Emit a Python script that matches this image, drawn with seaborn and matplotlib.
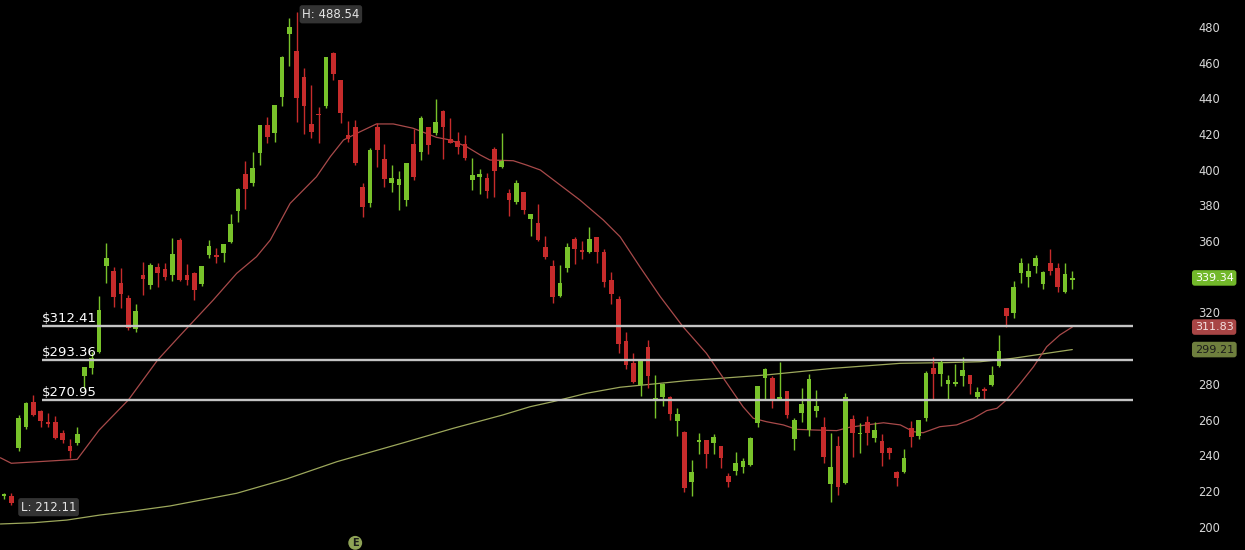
import numpy as np
import pandas as pd
import matplotlib
matplotlib.use("Agg")
import matplotlib.pyplot as plt
import matplotlib.transforms as mtransforms
import seaborn as sns

# ── data ─────────────────────────────────────────────────────────────────────
opens = [217.0, 217.3, 243.9, 255.6, 270.0, 264.8, 258.8, 258.8, 252.6, 245.2,
         246.7, 284.4, 288.7, 298.0, 346.0, 343.4, 336.3, 327.9, 310.5, 341.0,
         335.4, 345.3, 344.2, 341.0, 360.4, 341.0, 342.3, 336.1, 352.0, 352.2,
         353.1, 359.4, 376.8, 397.7, 392.5, 409.5, 425.0, 420.3, 440.9, 476.0,
         466.7, 452.0, 425.6, 431.2, 435.6, 465.5, 450.1, 419.4, 424.1, 390.4,
         381.1, 423.7, 405.7, 392.6, 391.3, 383.0, 414.3, 410.0, 423.7, 420.7,
         433.1, 417.0, 416.2, 414.3, 394.1, 396.0, 395.2, 411.4, 401.4, 386.8,
         381.8, 387.5, 372.6, 370.1, 356.5, 346.0, 329.2, 344.7, 360.9, 355.0,
         354.0, 362.1, 354.0, 338.2, 327.3, 304.2, 291.5, 279.4, 300.8, 270.9,
         272.7, 272.5, 259.4, 253.2, 225.1, 247.2, 248.5, 247.0, 245.2, 228.4,
         231.4, 233.2, 234.5, 258.1, 283.5, 283.5, 271.5, 275.8, 249.0, 263.6,
         254.3, 265.0, 255.6, 223.9, 245.2, 224.6, 260.1, 251.7, 258.8, 249.8,
         248.2, 243.9, 230.7, 230.7, 255.0, 250.8, 261.1, 289.1, 285.3, 279.7,
         279.7, 284.2, 284.9, 272.8, 276.9, 279.4, 290.0, 322.3, 319.8, 342.3,
         340.0, 346.0, 336.0, 347.9, 344.7, 331.7, 337.9]
highs = [219.0, 218.7, 262.5, 270.0, 273.7, 265.3, 263.9, 262.0, 254.1, 248.9,
         255.7, 289.5, 298.0, 329.2, 358.7, 345.3, 344.7, 329.8, 324.7, 348.4,
         347.5, 347.5, 347.9, 361.5, 361.9, 347.1, 342.5, 345.8, 360.4, 356.0,
         358.3, 375.3, 389.5, 404.8, 409.8, 425.2, 429.6, 436.4, 463.5, 484.8,
         488.54, 456.7, 447.6, 435.0, 463.0, 465.7, 450.3, 427.5, 427.8, 392.6,
         411.9, 426.3, 414.3, 402.6, 399.4, 403.8, 422.6, 430.0, 424.0, 439.5,
         433.3, 428.7, 421.3, 419.4, 406.8, 400.3, 398.4, 412.8, 420.7, 389.3,
         394.2, 387.7, 375.2, 380.7, 362.8, 349.4, 346.6, 358.7, 362.1, 360.2,
         367.7, 362.3, 355.4, 342.9, 329.2, 309.2, 297.5, 293.6, 304.6, 285.0,
         280.7, 273.2, 266.3, 253.4, 237.3, 252.3, 248.7, 251.9, 245.4, 230.3,
         242.0, 238.3, 250.0, 278.8, 288.7, 284.2, 292.2, 276.0, 260.7, 277.5,
         285.5, 276.6, 261.3, 252.3, 250.8, 274.6, 262.5, 257.9, 262.0, 258.8,
         251.9, 244.5, 230.9, 243.3, 259.3, 260.0, 287.2, 295.0, 293.6, 284.9,
         291.3, 295.0, 285.1, 278.0, 278.0, 289.9, 307.4, 322.5, 337.8, 350.3,
         347.5, 352.2, 343.1, 355.4, 347.5, 347.5, 343.4]
lows = [215.3, 212.11, 242.5, 254.5, 262.0, 255.7, 256.0, 248.9, 246.7, 238.7,
        245.7, 277.0, 285.5, 297.5, 336.3, 322.9, 322.3, 310.2, 309.2, 329.8,
        333.0, 334.1, 338.2, 337.8, 337.6, 335.4, 327.0, 334.6, 350.3, 347.5,
        348.4, 358.9, 370.9, 378.2, 390.6, 402.6, 414.7, 415.7, 435.6, 457.8,
        426.9, 419.9, 417.6, 415.1, 434.3, 450.5, 426.3, 415.7, 402.6, 373.3,
        379.3, 401.7, 390.0, 387.6, 377.4, 379.7, 394.2, 405.3, 409.0, 419.4,
        405.7, 414.7, 408.6, 405.3, 388.5, 386.3, 383.9, 384.4, 400.8, 373.9,
        380.7, 375.0, 362.8, 360.1, 349.8, 325.1, 328.8, 342.9, 347.1, 349.8,
        353.5, 347.9, 334.1, 324.7, 297.1, 288.1, 280.7, 273.2, 277.5, 261.0,
        267.6, 259.8, 250.8, 219.5, 217.1, 240.7, 232.7, 240.7, 232.7, 222.4,
        229.0, 229.9, 233.9, 255.8, 270.9, 266.3, 271.2, 260.6, 243.1, 258.8,
        250.8, 261.3, 235.4, 213.9, 217.7, 223.9, 239.1, 241.0, 245.7, 247.6,
        233.9, 237.8, 222.8, 229.8, 244.5, 248.9, 259.3, 271.7, 279.0, 271.1,
        279.0, 279.0, 274.1, 271.1, 271.1, 278.8, 289.6, 311.7, 316.7, 336.7,
        334.5, 342.0, 333.0, 341.0, 331.6, 331.1, 333.0]
closes = [218.3, 213.5, 260.7, 269.4, 262.6, 259.4, 257.3, 249.5, 248.5, 242.6,
          251.9, 289.3, 294.3, 321.4, 350.3, 328.8, 330.3, 311.1, 321.0, 338.6,
          346.6, 342.3, 340.0, 352.7, 338.0, 338.0, 332.6, 345.8, 357.2, 350.9,
          358.1, 369.3, 389.3, 389.3, 401.1, 425.0, 418.1, 436.2, 463.3, 479.7,
          440.0, 435.6, 421.3, 430.5, 462.9, 453.5, 431.5, 417.0, 403.6, 379.2,
          411.0, 411.0, 394.5, 395.1, 394.5, 403.6, 396.0, 428.7, 413.8, 426.9,
          423.7, 415.1, 412.5, 406.3, 397.1, 397.8, 388.1, 399.4, 405.1, 383.1,
          392.5, 377.3, 375.0, 360.8, 350.9, 328.5, 336.7, 356.5, 355.4, 353.9,
          360.9, 354.0, 337.2, 330.3, 302.3, 290.6, 281.2, 293.4, 284.4, 271.2,
          279.7, 263.1, 263.1, 221.9, 230.7, 248.5, 240.7, 250.0, 238.3, 225.2,
          235.8, 237.0, 249.5, 278.6, 288.5, 271.7, 272.8, 262.7, 259.8, 268.8,
          282.9, 267.6, 238.8, 233.6, 222.0, 272.4, 252.6, 252.6, 252.6, 254.3,
          241.5, 241.5, 227.5, 238.3, 250.3, 259.8, 286.1, 285.3, 292.2, 282.3,
          281.0, 287.6, 279.9, 275.6, 276.1, 284.9, 298.6, 318.0, 334.4, 347.9,
          343.4, 350.3, 342.9, 343.4, 334.4, 341.6, 339.34]

# moving averages, sampled along the traced lines (candle index, value)
fast_ma_idx = [-0.5, 1, 10, 13, 17, 21, 24, 28.6, 31.8, 34.5, 36.4, 39.1, 42.7,
               44.6, 46.4, 48.7, 50.9, 53.2, 55.9, 59.1, 61, 63.2, 65.1, 66.4,
               69.6, 71.4, 73.3, 78.7, 81.9, 84.2, 86.9, 89.7, 92.8, 96, 98.8,
               101, 102.4, 104.2, 106.5, 108.3, 111.1, 113.8, 115.6, 117.9,
               120.2, 122.5, 124.3, 125.6, 127.9, 130.2, 132.5, 134.3, 135.7,
               137, 138.9, 140.7, 142.5, 144.3, 146]
fast_ma_val = [238.6, 235.5, 237.7, 254.1, 271.0, 293.4, 306.8, 327.0, 341.9,
               351.2, 360.6, 381.1, 396.0, 407.3, 416.6, 421.3, 425.6, 425.6,
               423.2, 418.1, 416.6, 412.9, 408.2, 405.4, 405.0, 402.6, 399.8,
               383.0, 371.8, 362.4, 345.6, 328.8, 312.0, 297.1, 280.3, 267.2,
               260.7, 258.8, 257.0, 254.5, 254.1, 253.8, 255.7, 257.0, 258.2,
               257.0, 253.2, 252.6, 256.0, 257.0, 260.7, 265.0, 266.3, 271.0,
               280.3, 289.6, 300.8, 307.4, 311.83]
slow_ma_idx = [-0.5, 4, 8.6, 13.1, 17.7, 22.7, 31.8, 38.6, 45.5, 54.6, 61.4,
               68.2, 71.9, 75, 79.6, 84.2, 88.7, 93.3, 97.9, 104.2, 113.3,
               122.5, 128.8, 133.4, 137.9, 142.5, 146]
slow_ma_val = [201.5, 202.2, 203.7, 206.5, 208.8, 211.6, 218.7, 226.7, 236.4,
               247.0, 255.1, 262.6, 267.2, 270.0, 274.7, 278.1, 279.9, 281.8,
               283.1, 285.0, 288.7, 291.5, 291.9, 292.4, 294.3, 297.1, 299.21]

levels = [312.41, 293.36, 270.95]
level_labels = ["$312.41", "$293.36", "$270.95"]
yticks = [200, 220, 240, 260, 280, 320, 360, 380, 400, 420, 440, 460, 480]
high_label = "H: 488.54"
low_label = "L: 212.11"
last_close, fast_last, slow_last = 339.34, 311.83, 299.21
earnings_idx = 48

GREEN = "#78c22a"
RED = "#c62b2b"
BG = "black"

sns.set_theme(style="dark", rc={"axes.facecolor": BG, "figure.facecolor": BG,
                                "axes.grid": False})
plt.rcParams["font.family"] = ["DejaVu Sans"]

df = pd.DataFrame({"open": opens, "high": highs, "low": lows, "close": closes})
df["idx"] = np.arange(len(df))
df["up"] = df["close"] >= df["open"]
df["color"] = np.where(df["up"], GREEN, RED)
df["body_lo"] = df[["open", "close"]].min(axis=1)
df["body_h"] = (df["close"] - df["open"]).abs().clip(lower=0.9)

fig = plt.figure(figsize=(12.45, 5.5), dpi=100)
ax = fig.add_axes([0, 0, 1180 / 1245, 1])

# ── moving averages ──────────────────────────────────────────────────────────
fast = pd.DataFrame({"idx": fast_ma_idx, "val": fast_ma_val})
slow = pd.DataFrame({"idx": slow_ma_idx, "val": slow_ma_val})
sns.lineplot(data=slow, x="idx", y="val", ax=ax, color="#9da85c", lw=0.9,
             estimator=None, sort=False, zorder=2)
sns.lineplot(data=fast, x="idx", y="val", ax=ax, color="#a84a4a", lw=0.9,
             estimator=None, sort=False, zorder=2)

# ── candles ─────────────────────────────────────────────────────────────────
ax.vlines(df["idx"], df["low"], df["high"], colors=df["color"], lw=1.0, zorder=3)
ax.bar(df["idx"], df["body_h"], bottom=df["body_lo"], width=0.64,
       color=df["color"], edgecolor="none", zorder=4)

# ── horizontal levels ───────────────────────────────────────────────────────
ax.hlines(levels, 5.2, 154.3, colors="#c4c4c4", lw=1.7, zorder=5)
for lv, lab in zip(levels, level_labels):
    ax.text(5.2, lv + 0.6, lab, color="white", fontsize=9.5, ha="left",
            va="bottom", zorder=6)

# ── high / low labels ───────────────────────────────────────────────────────
hi_i = int(np.argmax(highs))
lo_i = int(np.argmin(lows))
ax.text(hi_i + 0.75, max(highs) - 1.5, high_label, color="#e6e6e6", fontsize=8.5,
        ha="left", va="center", zorder=7,
        bbox=dict(boxstyle="round,pad=0.22", fc="#333333", ec="none"))
ax.text(lo_i + 1.3, min(lows) - 1.2, low_label, color="#e6e6e6", fontsize=8.5,
        ha="left", va="center", zorder=7,
        bbox=dict(boxstyle="round,pad=0.22", fc="#333333", ec="none"))

# ── right-hand price tags ───────────────────────────────────────────────────
tr = mtransforms.blended_transform_factory(ax.transAxes, ax.transData)
for val, fc, tc in [(last_close, "#72b82a", "white"),
                    (fast_last, "#a84545", "#f3e0e0"),
                    (slow_last, "#6f7f3e", "#1b1b1b")]:
    ax.text(1.0125, val, f"{val:.2f}", transform=tr, color=tc, fontsize=8,
            ha="left", va="center", clip_on=False, zorder=8,
            bbox=dict(boxstyle="round,pad=0.25", fc=fc, ec="none"))

# earnings marker
trx = mtransforms.blended_transform_factory(ax.transData, ax.transAxes)
ax.text(earnings_idx, 0.013, "E", transform=trx, color="#1a1a1a", fontsize=7,
        fontweight="bold", ha="center", va="center", zorder=8,
        bbox=dict(boxstyle="circle,pad=0.2", fc="#8ea256", ec="none"))

# ── axes styling ────────────────────────────────────────────────────────────
ax.set_xlim(-0.547, 160.72)
ax.set_ylim(186.92, 495.04)
ax.yaxis.tick_right()
ax.set_yticks(yticks)
ax.set_yticklabels([str(t) for t in yticks])
ax.tick_params(axis="y", length=0, pad=13, labelsize=8.3, labelcolor="#d8d8d8")
ax.set_xticks([])
ax.set_xlabel("")
ax.set_ylabel("")
for s in ax.spines.values():
    s.set_visible(False)

fig.savefig("out.png", dpi=100, facecolor=BG)
